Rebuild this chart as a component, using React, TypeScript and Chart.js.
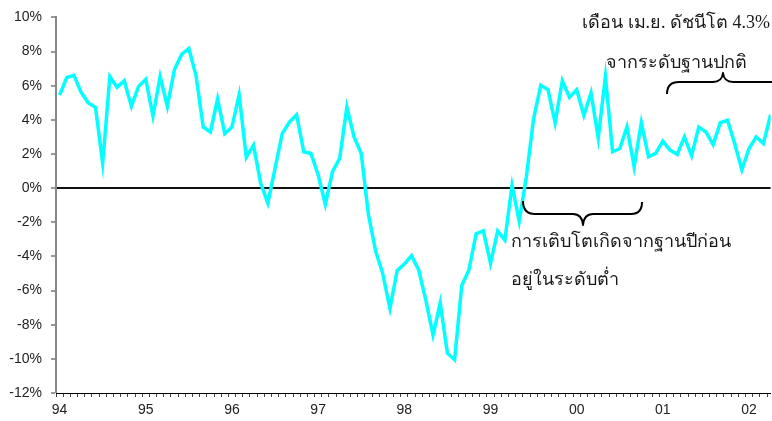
import React, { useEffect, useRef } from "react";
import { Chart, registerables } from "chart.js";

Chart.register(...registerables);

// Monthly growth of index, Jan 1994 .. Apr 2002 (percent, y/y)
const yearLabels = ["94", "95", "96", "97", "98", "99", "00", "01", "02"];

const growth1994 = [5.45, 6.48, 6.61, 5.61, 4.99, 4.74, 1.45, 6.54, 5.9, 6.29, 4.8, 5.96];
const growth1995 = [6.38, 4.22, 6.54, 4.8, 6.96, 7.83, 8.18, 6.58, 3.58, 3.29, 5.22, 3.19];
const growth1996 = [3.58, 5.47, 1.8, 2.52, 0.29, -0.87, 1.16, 3.19, 3.87, 4.29, 2.13, 2.03];
const growth1997 = [0.78, -0.96, 0.97, 1.74, 4.74, 3.0, 2.03, -1.54, -3.67, -5.02, -7.05, -4.83];
const growth1998 = [-4.45, -3.96, -4.79, -6.57, -8.6, -6.73, -9.67, -10.05, -5.7, -4.79, -2.67, -2.51];
const growth1999 = [-4.41, -2.51, -3.05, 0.16, -1.93, 0.68, 4.06, 6.03, 5.77, 3.83, 6.29, 5.32];
const growth2000 = [5.77, 4.26, 5.57, 2.94, 6.54, 2.13, 2.32, 3.58, 1.26, 3.83, 1.84, 2.03];
const growth2001 = [2.75, 2.23, 1.97, 3.0, 1.9, 3.58, 3.29, 2.55, 3.83, 3.97, 2.61, 1.07];
const growth2002 = [2.32, 3.0, 2.61, 4.3];

const growth = [
  ...growth1994, ...growth1995, ...growth1996, ...growth1997, ...growth1998,
  ...growth1999, ...growth2000, ...growth2001, ...growth2002,
];

const noteTop1 = "เดือน เม.ย. ดัชนีโต 4.3%";
const noteTop2 = "จากระดับฐานปกติ";
const noteBottom1 = "การเติบโตเกิดจากฐานปีก่อน";
const noteBottom2 = "อยู่ในระดับต่ำ";

const serif = '"Times New Roman", "Liberation Serif", "DejaVu Serif", serif';
const sans = 'Arial, "Liberation Sans", Helvetica, sans-serif';

const annotations = {
  id: "annotations",
  afterDraw(chart: any) {
    const ctx = chart.ctx as CanvasRenderingContext2D;
    ctx.save();
    ctx.fillStyle = "#1a1a1a";
    ctx.font = `18px ${serif}`;
    ctx.textBaseline = "middle";
    ctx.textAlign = "right";
    ctx.fillText(noteTop1, 770, 23);
    ctx.textAlign = "left";
    ctx.fillText(noteTop2, 606, 63);
    ctx.fillText(noteBottom1, 511, 242);
    ctx.fillText(noteBottom2, 511, 280);

    ctx.strokeStyle = "#000";
    ctx.lineWidth = 2;
    ctx.lineJoin = "round";
    // top brace (tip up)
    ctx.beginPath();
    ctx.moveTo(667, 94);
    ctx.quadraticCurveTo(667, 82, 679, 82);
    ctx.lineTo(713, 82);
    ctx.quadraticCurveTo(722, 82, 723, 73);
    ctx.quadraticCurveTo(724, 82, 733, 82);
    ctx.lineTo(772, 82);
    ctx.quadraticCurveTo(780, 82, 780, 94);
    ctx.stroke();
    // bottom brace (tip down)
    ctx.beginPath();
    ctx.moveTo(523, 201);
    ctx.quadraticCurveTo(523, 214, 535, 214);
    ctx.lineTo(573, 214);
    ctx.quadraticCurveTo(582, 214, 583, 225);
    ctx.quadraticCurveTo(584, 214, 593, 214);
    ctx.lineTo(631, 214);
    ctx.quadraticCurveTo(642, 214, 642, 202);
    ctx.stroke();
    ctx.restore();
  },
};

export default function App() {
  const ref = useRef<HTMLCanvasElement | null>(null);

  useEffect(() => {
    document.body.style.margin = "0";
    const canvas = ref.current;
    if (!canvas) return;
    const chart = new Chart(canvas, {
      type: "line",
      data: {
        datasets: [
          {
            data: growth.map((v, i) => ({ x: i, y: v })),
            borderColor: "#00FFFF",
            borderWidth: 3.5,
            pointRadius: 0,
            tension: 0,
            fill: false,
          },
        ],
      },
      options: {
        responsive: false,
        animation: false,
        events: [],
        layout: { padding: { top: 14, right: 0, left: 0, bottom: 0 } },
        plugins: {
          legend: { display: false },
          tooltip: { enabled: false },
        },
        scales: {
          x: {
            type: "linear",
            min: -0.5,
            max: 99,
            afterBuildTicks: (s: any) => {
              s.ticks = Array.from({ length: 100 }, (_, k) => ({ value: k - 0.5 }));
            },
            afterFit: (s: any) => {
              s.height = 28;
            },
            ticks: {
              autoSkip: false,
              maxRotation: 0,
              minRotation: 0,
              labelOffset: 3.6,
              padding: 5,
              color: "#222",
              font: { family: sans, size: 14 },
              callback: (_v: any, index: number) =>
                index % 12 === 0 ? yearLabels[index / 12] ?? "" : "",
            },
            grid: {
              drawOnChartArea: false,
              drawTicks: true,
              tickLength: 4,
              color: "#444",
              lineWidth: 1,
            },
            border: { color: "#000", width: 1 },
          },
          y: {
            min: -12,
            max: 10,
            afterBuildTicks: (s: any) => {
              s.ticks = Array.from({ length: 12 }, (_, k) => ({ value: -12 + 2 * k }));
            },
            afterFit: (s: any) => {
              s.width = 56;
            },
            ticks: {
              padding: 9,
              color: "#222",
              font: { family: sans, size: 14 },
              callback: (v: any) => `${v}%`,
            },
            grid: {
              drawOnChartArea: true,
              drawTicks: true,
              tickLength: 5,
              color: (c: any) => (c.tick && c.tick.value === 0 ? "#111" : "rgba(0,0,0,0)"),
              lineWidth: (c: any) => (c.tick && c.tick.value === 0 ? 2 : 0),
              tickColor: "#333",
              tickWidth: 1,
            },
            border: { color: "#888", width: 2 },
          },
        },
      },
      plugins: [annotations],
    });
    return () => chart.destroy();
  }, []);

  return (
    <div style={{ width: 772, height: 421, background: "#fff" }}>
      <canvas ref={ref} width={772} height={421} style={{ display: "block" }} />
    </div>
  );
}
